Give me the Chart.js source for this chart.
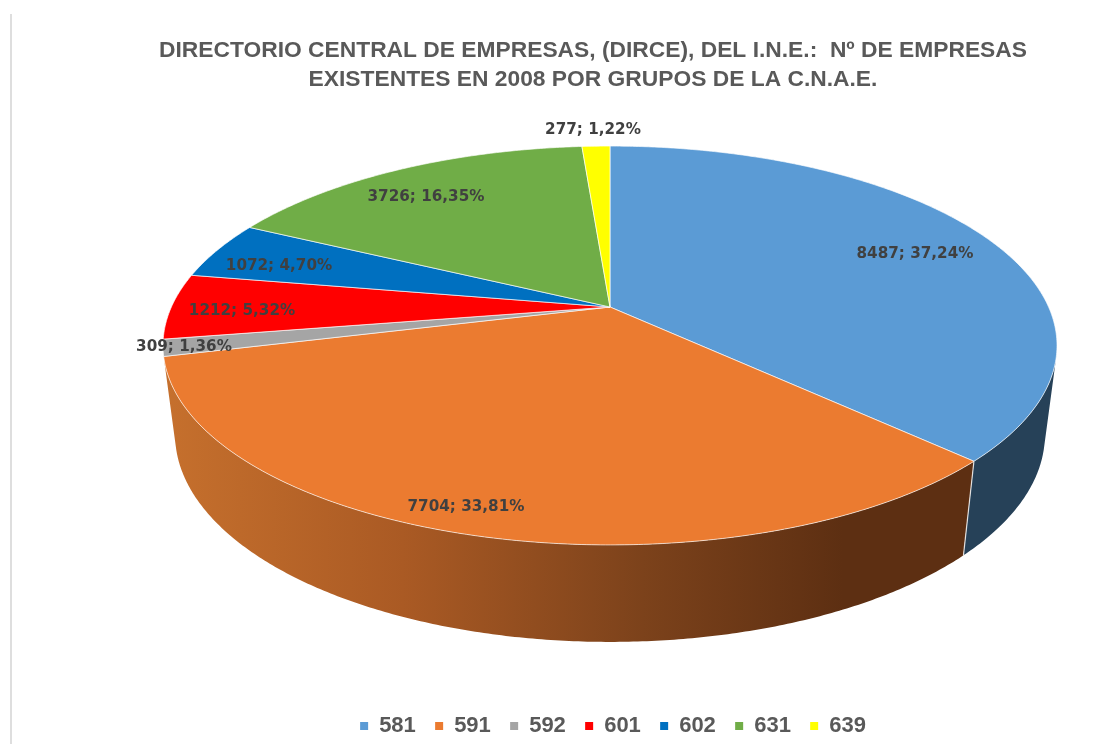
<!DOCTYPE html>
<html>
<head>
<meta charset="utf-8">
<style>
html,body{margin:0;padding:0;background:#fff;width:1100px;height:744px;overflow:hidden}
#wrap{position:relative;width:1100px;height:744px}
canvas{display:block;filter:blur(0.4px)}
#rule{position:absolute;left:10px;top:14px;width:2px;height:730px;background:#dedede}
</style>
<script src="https://cdn.jsdelivr.net/npm/chart.js@4/dist/chart.umd.js"></script>
</head>
<body>
<div id="wrap"><div id="rule"></div><canvas id="c" width="1100" height="744"></canvas></div>
<script>
// ---- data ----
const categories = ['581','591','592','601','602','631','639'];
const empresas   = [8487,7704,309,1212,1072,3726,277];
const percentLabels = ['37,24%','33,81%','1,36%','5,32%','4,70%','16,35%','1,22%'];
const titleLines = ['DIRECTORIO CENTRAL DE EMPRESAS, (DIRCE), DEL I.N.E.:  Nº DE EMPRESAS',
                    'EXISTENTES EN 2008 POR GRUPOS DE LA C.N.A.E.'];
// ---- style ----
const sliceColors = ['#5B9BD5','#EB7B30','#A5A5A5','#FF0000','#0070C0','#70AD47','#FFFF00'];
const wallColors  = ['#264158',null,'#636363','#990000','#004373','#436828','#999900'];
// label centres relative to the pie apex
const labelDx = [305,-144,-426,-368,-331,-184,-17];
const labelDy = [-53,200,40,4,-41,-110,-177];
// perspective of the top face and of the bottom rim
const topPlane = {cx:610, cy:307, a:438.6, b:192, k:0.193};
const lowPlane = {cx:610, cy:395, a:427,   b:200, k:0.19};
const DEG = Math.PI/180;

function project(p, r, th){
  const u = r*Math.cos(th), v = r*Math.sin(th), d = 1 - p.k*v;
  return [p.cx + p.a*u/d, p.cy + p.b*v/d];
}
function arcPts(p, a0, a1){
  const n = Math.max(2, Math.ceil(Math.abs(a1-a0)/(0.5*DEG)));
  const out = [];
  for(let i=0;i<=n;i++) out.push(project(p,1,a0+(a1-a0)*i/n));
  return out;
}
const pie3d = {
  id:'pie3d',
  afterLayout(chart){
    const shift = (b,dx)=>{ b.left+=dx; b.right+=dx; };
    shift(chart.titleBlock, 43);
    shift(chart.legend, 63);
    chart.legend.top += 3; chart.legend.bottom += 3;
  },
  beforeDatasetDraw(chart, args){
    const ctx = chart.ctx, arcs = chart.getDatasetMeta(args.index).data;
    ctx.save();
    // walls
    const grad = ctx.createLinearGradient(163,0,963,0);
    grad.addColorStop(0,'#c6702d'); grad.addColorStop(0.3,'#aa5a24');
    grad.addColorStop(0.6,'#7c421b'); grad.addColorStop(0.85,'#5d2f12'); grad.addColorStop(1,'#5d2f12');
    const lo = 15*DEG, hi = 165.8*DEG;
    arcs.forEach((el,i)=>{
      const a0 = Math.max(el.startAngle, lo), a1 = Math.min(el.endAngle, hi);
      if(a1 <= a0) return;
      const t = arcPts(topPlane,a0,a1), b = arcPts(lowPlane,a0,a1).reverse();
      ctx.beginPath();
      t.concat(b).forEach((q,j)=> j? ctx.lineTo(q[0],q[1]) : ctx.moveTo(q[0],q[1]));
      ctx.closePath();
      ctx.fillStyle = wallColors[i] || grad;
      ctx.fill();
      if(i===1){ // seam between the two visible walls
        const s = project(topPlane,1,a0), e = project(lowPlane,1,a0);
        ctx.beginPath(); ctx.moveTo(s[0],s[1]); ctx.lineTo(e[0],e[1]);
        ctx.strokeStyle='rgba(255,255,255,.8)'; ctx.lineWidth=1.2; ctx.stroke();
      }
    });
    // top face
    arcs.forEach((el,i)=>{
      const pts = arcPts(topPlane, el.startAngle, el.endAngle);
      ctx.beginPath();
      ctx.moveTo(topPlane.cx, topPlane.cy);
      pts.forEach(q=>ctx.lineTo(q[0],q[1]));
      ctx.closePath();
      ctx.fillStyle = sliceColors[i];
      ctx.fill();
      ctx.strokeStyle='rgba(255,255,255,.65)'; ctx.lineWidth=1; ctx.lineJoin='round'; ctx.stroke();
    });
    // labels
    ctx.font='bold 15.2px "DejaVu Sans"';
    ctx.fillStyle='#404040'; ctx.textAlign='center'; ctx.textBaseline='middle';
    empresas.forEach((v,i)=>{
      ctx.fillText(v+'; '+percentLabels[i], topPlane.cx+labelDx[i], topPlane.cy+labelDy[i]);
    });
    ctx.restore();
    return false;
  }
};
new Chart(document.getElementById('c'),{
  type:'pie',
  data:{labels:categories,datasets:[{data:empresas,backgroundColor:sliceColors,borderWidth:0}]},
  plugins:[pie3d],
  options:{
    responsive:false,animation:false,
    layout:{padding:{top:0,bottom:0,left:0,right:0}},
    plugins:{
      tooltip:{enabled:false},
      title:{display:true,text:titleLines,color:'#595959',
        font:{family:'"Liberation Sans"',size:22.8,weight:'bold',lineHeight:1.28},
        padding:{top:36,bottom:10}},
      legend:{position:'bottom',labels:{boxWidth:8,boxHeight:8,padding:19.3,color:'#595959',
        font:{family:'"Liberation Sans"',size:22,weight:'bold'}}}
    }
  }
});
</script>
</body>
</html>
